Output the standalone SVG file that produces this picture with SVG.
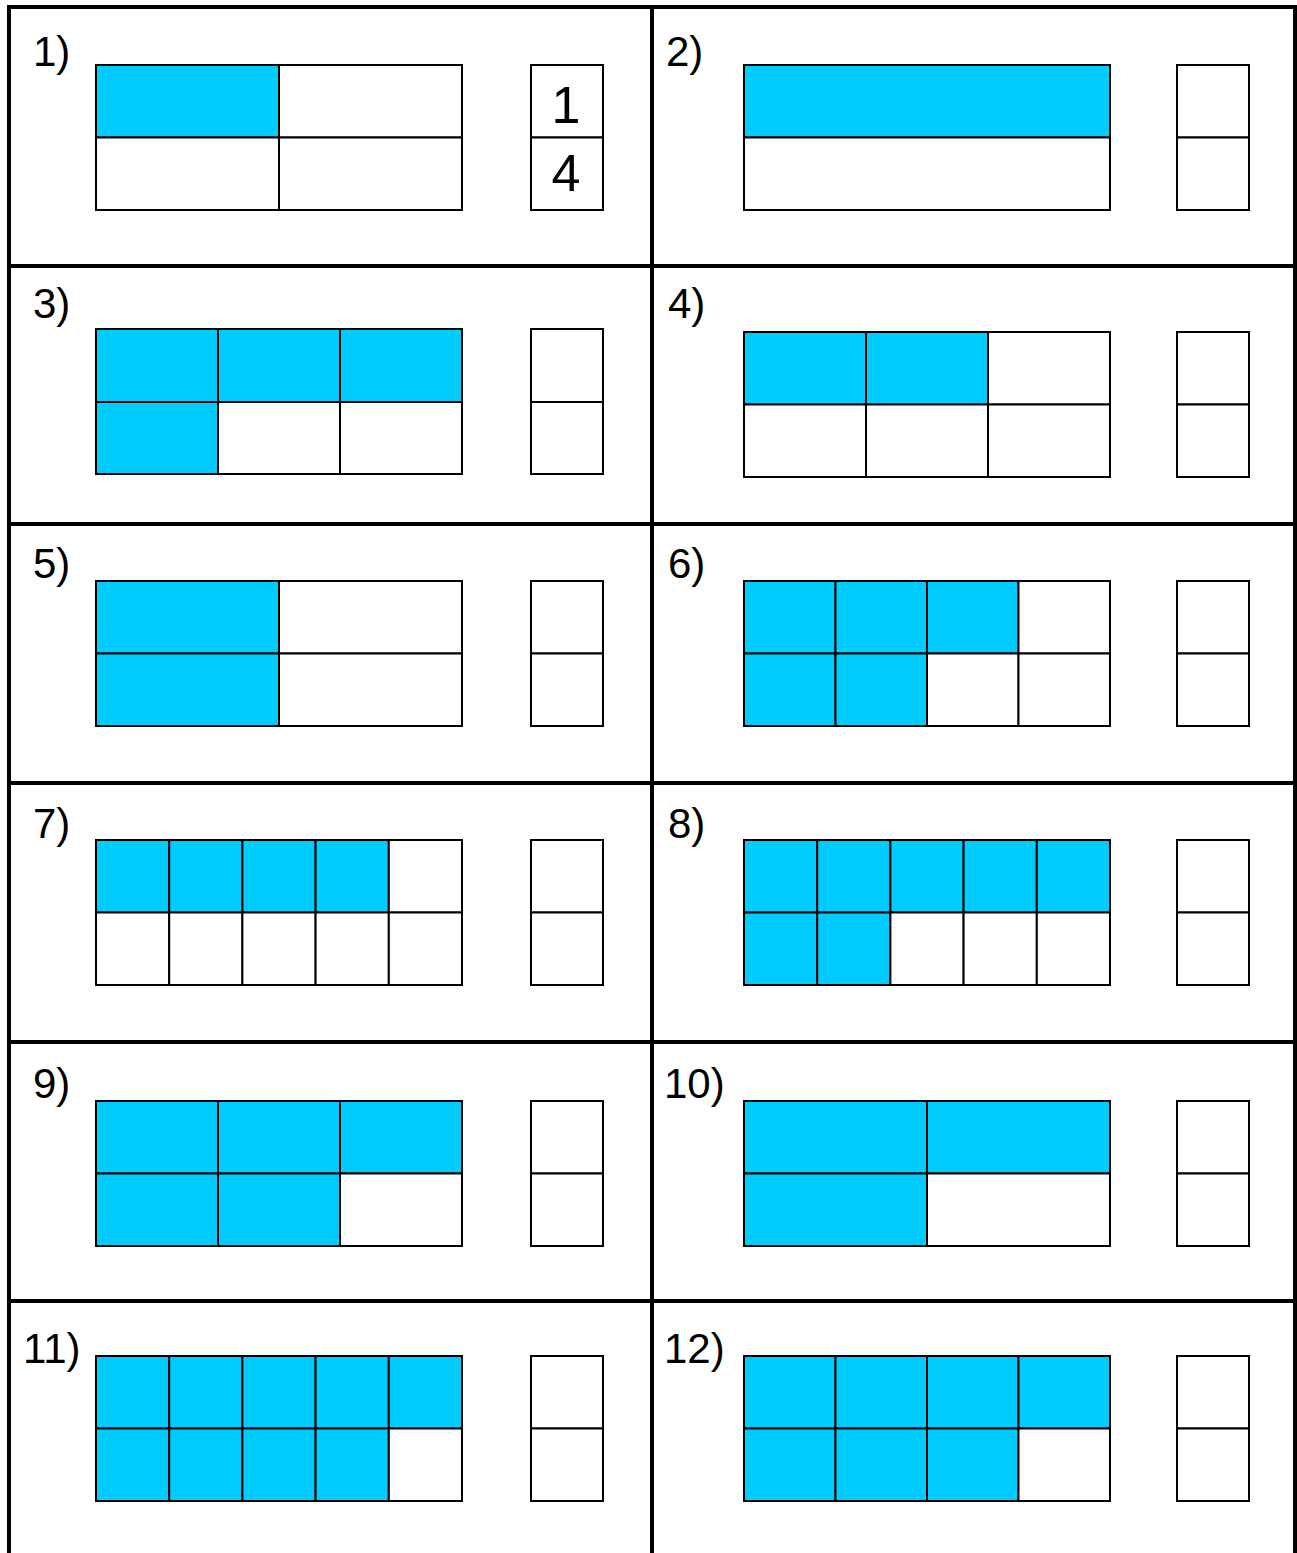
<svg xmlns="http://www.w3.org/2000/svg" width="1297" height="1553" viewBox="0 0 1297 1553">
<style>
.c{fill:#00ccff;stroke:#000;stroke-width:2}
.w{fill:#fff;stroke:#000;stroke-width:2}
.b{fill:none;stroke:#000;stroke-width:4}
.l{font-family:"Liberation Sans",Arial,sans-serif;font-size:42px;fill:#000}
.f{font-family:"Liberation Sans",Arial,sans-serif;font-size:52px;fill:#000;text-anchor:middle}
</style>
<rect width="1297" height="1553" fill="#fff"/>
<g id="frame">
<path class="b" d="M9,1553 V7 H1295 V1553 M652,7 V1553 M9,266 H1295 M9,524 H1295 M9,783 H1295 M9,1042 H1295 M9,1301 H1295"/>
</g>
<g id="p1">
<text class="l" x="33" y="66">1)</text>
<rect class="c" x="96" y="65" width="183" height="72.5"/><rect class="w" x="279" y="65" width="183" height="72.5"/>
<rect class="w" x="96" y="137.5" width="183" height="72.5"/><rect class="w" x="279" y="137.5" width="183" height="72.5"/>
<rect class="w" x="531" y="65" width="72" height="72.5"/><rect class="w" x="531" y="137.5" width="72" height="72.5"/>
<text class="f" x="566" y="123">1</text><text class="f" x="566" y="191">4</text>
</g>
<g id="p2">
<text class="l" x="666" y="66">2)</text>
<rect class="c" x="744" y="65" width="366" height="72.5"/><rect class="w" x="744" y="137.5" width="366" height="72.5"/>
<rect class="w" x="1177" y="65" width="72" height="72.5"/><rect class="w" x="1177" y="137.5" width="72" height="72.5"/>
</g>
<g id="p3">
<text class="l" x="33" y="318">3)</text>
<rect class="c" x="96" y="329" width="122" height="73"/><rect class="c" x="218" y="329" width="122" height="73"/><rect class="c" x="340" y="329" width="122" height="73"/>
<rect class="c" x="96" y="402" width="122" height="72"/><rect class="w" x="218" y="402" width="122" height="72"/><rect class="w" x="340" y="402" width="122" height="72"/>
<rect class="w" x="531" y="329" width="72" height="73"/><rect class="w" x="531" y="402" width="72" height="72"/>
</g>
<g id="p4">
<text class="l" x="668" y="318">4)</text>
<rect class="c" x="744" y="332" width="122" height="72.5"/><rect class="c" x="866" y="332" width="122" height="72.5"/><rect class="w" x="988" y="332" width="122" height="72.5"/>
<rect class="w" x="744" y="404.5" width="122" height="72.5"/><rect class="w" x="866" y="404.5" width="122" height="72.5"/><rect class="w" x="988" y="404.5" width="122" height="72.5"/>
<rect class="w" x="1177" y="332" width="72" height="72.5"/><rect class="w" x="1177" y="404.5" width="72" height="72.5"/>
</g>
<g id="p5">
<text class="l" x="33" y="578">5)</text>
<rect class="c" x="96" y="581" width="183" height="72.5"/><rect class="w" x="279" y="581" width="183" height="72.5"/>
<rect class="c" x="96" y="653.5" width="183" height="72.5"/><rect class="w" x="279" y="653.5" width="183" height="72.5"/>
<rect class="w" x="531" y="581" width="72" height="72.5"/><rect class="w" x="531" y="653.5" width="72" height="72.5"/>
</g>
<g id="p6">
<text class="l" x="668" y="578">6)</text>
<rect class="c" x="744" y="581" width="91.5" height="72.5"/><rect class="c" x="835.5" y="581" width="91.5" height="72.5"/><rect class="c" x="927" y="581" width="91.5" height="72.5"/><rect class="w" x="1018.5" y="581" width="91.5" height="72.5"/>
<rect class="c" x="744" y="653.5" width="91.5" height="72.5"/><rect class="c" x="835.5" y="653.5" width="91.5" height="72.5"/><rect class="w" x="927" y="653.5" width="91.5" height="72.5"/><rect class="w" x="1018.5" y="653.5" width="91.5" height="72.5"/>
<rect class="w" x="1177" y="581" width="72" height="72.5"/><rect class="w" x="1177" y="653.5" width="72" height="72.5"/>
</g>
<g id="p7">
<text class="l" x="33" y="838">7)</text>
<rect class="c" x="96" y="840" width="73.2" height="72.5"/><rect class="c" x="169.2" y="840" width="73.2" height="72.5"/><rect class="c" x="242.4" y="840" width="73.2" height="72.5"/><rect class="c" x="315.6" y="840" width="73.2" height="72.5"/><rect class="w" x="388.8" y="840" width="73.2" height="72.5"/>
<rect class="w" x="96" y="912.5" width="73.2" height="72.5"/><rect class="w" x="169.2" y="912.5" width="73.2" height="72.5"/><rect class="w" x="242.4" y="912.5" width="73.2" height="72.5"/><rect class="w" x="315.6" y="912.5" width="73.2" height="72.5"/><rect class="w" x="388.8" y="912.5" width="73.2" height="72.5"/>
<rect class="w" x="531" y="840" width="72" height="72.5"/><rect class="w" x="531" y="912.5" width="72" height="72.5"/>
</g>
<g id="p8">
<text class="l" x="668" y="838">8)</text>
<rect class="c" x="744" y="840" width="73.2" height="72.5"/><rect class="c" x="817.2" y="840" width="73.2" height="72.5"/><rect class="c" x="890.4" y="840" width="73.2" height="72.5"/><rect class="c" x="963.6" y="840" width="73.2" height="72.5"/><rect class="c" x="1036.8" y="840" width="73.2" height="72.5"/>
<rect class="c" x="744" y="912.5" width="73.2" height="72.5"/><rect class="c" x="817.2" y="912.5" width="73.2" height="72.5"/><rect class="w" x="890.4" y="912.5" width="73.2" height="72.5"/><rect class="w" x="963.6" y="912.5" width="73.2" height="72.5"/><rect class="w" x="1036.8" y="912.5" width="73.2" height="72.5"/>
<rect class="w" x="1177" y="840" width="72" height="72.5"/><rect class="w" x="1177" y="912.5" width="72" height="72.5"/>
</g>
<g id="p9">
<text class="l" x="33" y="1098">9)</text>
<rect class="c" x="96" y="1101" width="122" height="72.5"/><rect class="c" x="218" y="1101" width="122" height="72.5"/><rect class="c" x="340" y="1101" width="122" height="72.5"/>
<rect class="c" x="96" y="1173.5" width="122" height="72.5"/><rect class="c" x="218" y="1173.5" width="122" height="72.5"/><rect class="w" x="340" y="1173.5" width="122" height="72.5"/>
<rect class="w" x="531" y="1101" width="72" height="72.5"/><rect class="w" x="531" y="1173.5" width="72" height="72.5"/>
</g>
<g id="p10">
<text class="l" x="664" y="1098">10)</text>
<rect class="c" x="744" y="1101" width="183" height="72.5"/><rect class="c" x="927" y="1101" width="183" height="72.5"/>
<rect class="c" x="744" y="1173.5" width="183" height="72.5"/><rect class="w" x="927" y="1173.5" width="183" height="72.5"/>
<rect class="w" x="1177" y="1101" width="72" height="72.5"/><rect class="w" x="1177" y="1173.5" width="72" height="72.5"/>
</g>
<g id="p11">
<text class="l" x="23" y="1363">11)</text>
<rect class="c" x="96" y="1356" width="73.2" height="72.5"/><rect class="c" x="169.2" y="1356" width="73.2" height="72.5"/><rect class="c" x="242.4" y="1356" width="73.2" height="72.5"/><rect class="c" x="315.6" y="1356" width="73.2" height="72.5"/><rect class="c" x="388.8" y="1356" width="73.2" height="72.5"/>
<rect class="c" x="96" y="1428.5" width="73.2" height="72.5"/><rect class="c" x="169.2" y="1428.5" width="73.2" height="72.5"/><rect class="c" x="242.4" y="1428.5" width="73.2" height="72.5"/><rect class="c" x="315.6" y="1428.5" width="73.2" height="72.5"/><rect class="w" x="388.8" y="1428.5" width="73.2" height="72.5"/>
<rect class="w" x="531" y="1356" width="72" height="72.5"/><rect class="w" x="531" y="1428.5" width="72" height="72.5"/>
</g>
<g id="p12">
<text class="l" x="664" y="1363">12)</text>
<rect class="c" x="744" y="1356" width="91.5" height="72.5"/><rect class="c" x="835.5" y="1356" width="91.5" height="72.5"/><rect class="c" x="927" y="1356" width="91.5" height="72.5"/><rect class="c" x="1018.5" y="1356" width="91.5" height="72.5"/>
<rect class="c" x="744" y="1428.5" width="91.5" height="72.5"/><rect class="c" x="835.5" y="1428.5" width="91.5" height="72.5"/><rect class="c" x="927" y="1428.5" width="91.5" height="72.5"/><rect class="w" x="1018.5" y="1428.5" width="91.5" height="72.5"/>
<rect class="w" x="1177" y="1356" width="72" height="72.5"/><rect class="w" x="1177" y="1428.5" width="72" height="72.5"/>
</g>
<g id="connectors"/>
</svg>
